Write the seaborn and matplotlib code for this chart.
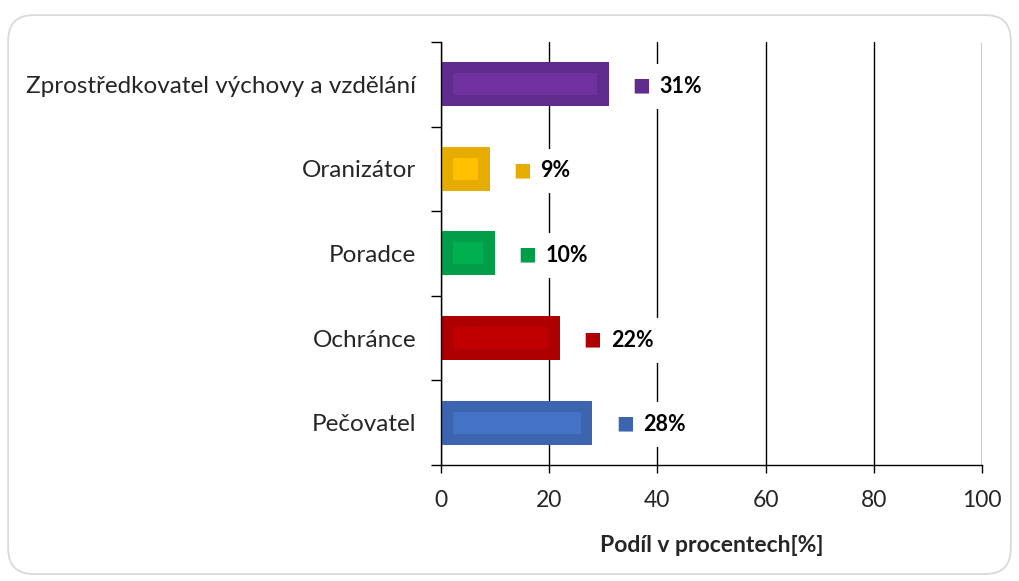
import matplotlib
matplotlib.use("Agg")
import matplotlib.pyplot as plt
from matplotlib.patches import Rectangle, FancyBboxPatch
import seaborn as sns
import pandas as pd

categories = ["Zprostředkovatel výchovy a vzdělání", "Oranizátor", "Poradce", "Ochránce", "Pečovatel"]
values = [31, 9, 10, 22, 28]
outer_colors = ["#5F2B8C", "#E6AC00", "#009E48", "#AE0000", "#3D65AF"]
inner_colors = ["#7030A0", "#FFC000", "#00B050", "#C00000", "#4472C4"]
x_ticks = [0, 20, 40, 60, 80, 100]
x_label = "Podíl v procentech[%]"

sns.set_theme(style="white")
plt.rcParams["font.family"] = ["Lato", "DejaVu Sans"]

df = pd.DataFrame({"cat": categories, "val": values})

fig = plt.figure(figsize=(10.19, 5.81), dpi=100)
fig.patch.set_facecolor("white")
border = FancyBboxPatch((0.008, 0.012), 0.984, 0.962,
                        boxstyle="round,pad=0,rounding_size=0.025",
                        transform=fig.transFigure, facecolor="none",
                        edgecolor="#d9d9d9", linewidth=1.3, zorder=-5,
                        mutation_aspect=1019/581)
fig.patches.append(border)
ax = fig.add_axes([0.4328, 0.1997, 0.5309, 0.728])
ax.patch.set_alpha(0)
ax.set_zorder(2)

sns.barplot(data=df, y="cat", x="val", hue="cat", palette=outer_colors,
            order=categories, hue_order=categories, legend=False,
            orient="h", width=0.52, ax=ax, saturation=1, zorder=3)

ax.set_xlim(0, 100)
ax.set_ylim(4.5, -0.5)

# inner lighter rectangles derived from bar geometry
for p, c in zip(ax.patches[:len(categories)], inner_colors):
    x0, y0, w, h = p.get_x(), p.get_y(), p.get_width(), p.get_height()
    ix = 2.2
    iy = h * 0.25
    ax.add_patch(Rectangle((x0 + ix, y0 + iy), max(w - 2 * ix, 0), h - 2 * iy,
                           facecolor=c, edgecolor="none", zorder=4))
    p.set_edgecolor("none")

# data labels
for i, (v, c) in enumerate(zip(values, outer_colors)):
    ax.annotate(f"{v}%", xy=(v, i), xytext=(36.5, -1.5), textcoords="offset points",
                ha="left", va="center", fontsize=15.5, fontweight="bold", color="black",
                bbox=dict(boxstyle="square,pad=0.55", facecolor="white", edgecolor="none"),
                zorder=5)
    ax.annotate("■", xy=(v, i), xytext=(17, -0.5), textcoords="offset points",
                ha="left", va="center", fontsize=13.5, color=c,
                family=["DejaVu Sans"], zorder=6)

ax.set_xticks(x_ticks)
ax.set_xticklabels([str(t) for t in x_ticks], fontsize=16.5)
ax.grid(axis="x", color="black", linewidth=1, zorder=1)
ax.grid(axis="y", visible=False)

ax.set_yticks([i - 0.5 for i in range(len(categories) + 1)])
ax.set_yticklabels([])
ax.set_yticks(range(len(categories)), minor=True)
ax.set_yticklabels(categories, minor=True, fontsize=17.5)
ax.tick_params(axis="y", which="major", direction="out", length=7, width=1, color="black", left=True)
ax.tick_params(axis="y", which="minor", length=0, pad=18)
ax.tick_params(axis="x", direction="out", length=6, width=1, color="black", bottom=True, pad=12)
ax.set_ylabel("")
ax.set_xlabel(x_label, fontsize=16.5, fontweight="bold", labelpad=17)

for s in ["top", "right"]:
    ax.spines[s].set_visible(False)
for s in ["left", "bottom"]:
    ax.spines[s].set_color("black")
    ax.spines[s].set_linewidth(1)
    ax.spines[s].set_zorder(6)

fig.savefig("out.png", dpi=100)
